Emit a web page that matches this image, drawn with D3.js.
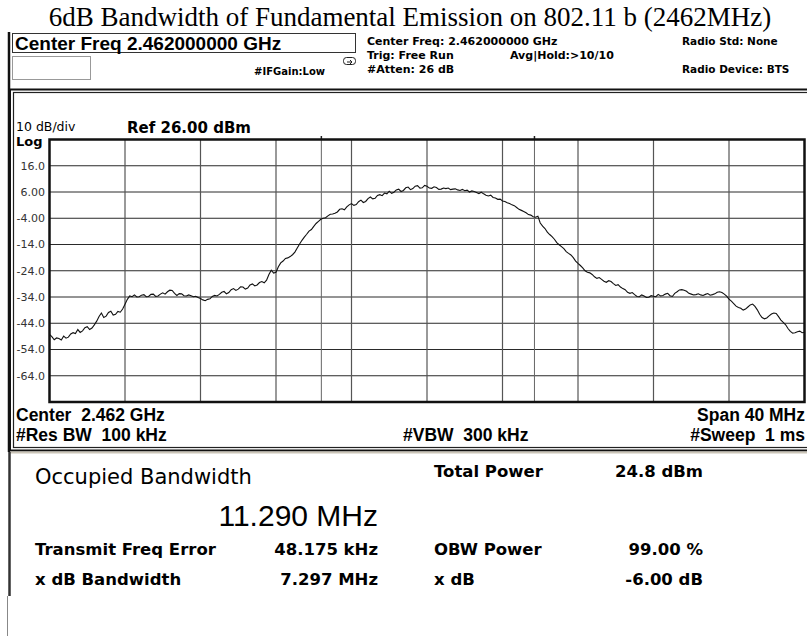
<!DOCTYPE html>
<html>
<head>
<meta charset="utf-8">
<script src="https://cdn.jsdelivr.net/npm/d3@7/dist/d3.min.js"></script>
<style>
  body { margin: 0; background: #fff; }
  svg { display: block; }
  text { white-space: pre; }
</style>
</head>
<body>
<svg id="chart" width="807" height="636"></svg>
<script>
// trace, dBm, one point per 0.125 MHz from -20 MHz to +20 MHz around 2.462 GHz
var sweepStartMHz = -20;
var sweepStepMHz = 0.125;
var traceDbm = [
  -48.2, -49.1, -50.3, -49.6, -49.8, -50.4, -48.9, -49.7, -49.3, -48.1, -47.6, -47.9, -46.4, -47.5, -46.9, -45.7,
  -45.3, -46.4, -45.8, -44.6, -43.2, -41.4, -40.1, -41.8, -41.3, -39.9, -39.4, -40.9, -40.6, -39.5, -39.8, -38.6,
  -36.8, -34.9, -33.6, -33.9, -33.2, -34.0, -33.9, -33.3, -33.1, -33.9, -33.8, -33.0, -32.9, -33.8, -33.6, -32.9,
  -32.4, -32.9, -32.0, -31.4, -31.5, -32.6, -33.4, -32.7, -32.8, -33.5, -33.6, -33.2, -33.5, -33.9, -33.7, -34.2,
  -34.6, -35.1, -35.4, -34.9, -34.7, -33.8, -33.4, -33.6, -33.0, -32.2, -31.9, -32.8, -32.3, -31.2, -30.8, -31.5,
  -31.0, -30.1, -30.2, -31.0, -30.6, -29.4, -29.0, -29.8, -29.4, -28.5, -28.1, -28.6, -27.6, -25.4, -23.8, -24.9,
  -24.6, -22.5, -21.0, -20.3, -19.3, -19.1, -18.6, -17.9, -16.9, -15.3, -13.8, -12.4, -11.2, -10.1, -8.9, -8.3,
  -7.1, -6.0, -5.2, -4.4, -4.0, -3.8, -3.1, -2.5, -2.4, -2.1, -1.6, -0.6, -0.4, -0.8, 0.3, 1.1,
  1.6, 0.9, 1.2, 2.3, 2.9, 2.0, 2.4, 3.5, 4.1, 3.4, 3.6, 4.7, 5.0, 4.6, 5.6, 5.3,
  6.3, 5.5, 5.9, 6.8, 7.1, 6.2, 6.6, 7.6, 7.9, 6.9, 7.3, 8.2, 8.4, 7.5, 7.6, 8.5,
  8.2, 7.5, 7.4, 8.0, 7.7, 7.0, 7.1, 7.5, 7.3, 7.5, 6.9, 7.1, 7.2, 6.8, 6.6, 7.0,
  6.5, 6.7, 6.0, 6.4, 6.2, 5.8, 5.4, 5.9, 5.3, 4.8, 4.5, 4.8, 3.9, 3.7, 3.2, 3.3,
  2.6, 2.4, 1.9, 1.6, 1.1, 0.8, 0.1, -0.6, -1.0, -1.4, -1.9, -2.6, -2.8, -3.4, -3.6, -3.2,
  -5.8, -7.0, -7.9, -9.3, -10.2, -11.0, -12.0, -13.3, -14.1, -14.8, -15.6, -16.7, -17.4, -18.0, -19.0, -20.3,
  -21.2, -22.0, -22.9, -24.0, -24.6, -24.8, -25.4, -26.3, -26.9, -26.6, -27.3, -28.0, -28.4, -27.8, -28.1, -28.9,
  -29.6, -29.3, -30.2, -30.8, -31.2, -32.2, -32.6, -32.3, -33.1, -33.8, -33.9, -33.2, -33.6, -34.2, -34.1, -33.5,
  -33.7, -33.9, -33.0, -33.6, -33.4, -32.9, -32.6, -33.5, -33.8, -32.6, -32.0, -31.3, -31.2, -31.4, -31.8, -32.6,
  -32.9, -33.2, -33.1, -32.8, -33.2, -33.4, -33.0, -32.7, -33.3, -33.1, -32.8, -32.2, -32.0, -32.3, -32.9, -33.7,
  -34.8, -35.6, -36.5, -37.5, -38.0, -38.3, -39.0, -38.6, -37.8, -37.0, -36.7, -37.6, -38.9, -40.6, -41.8, -42.3,
  -42.0, -41.2, -40.5, -40.1, -40.3, -41.5, -42.8, -43.7, -44.6, -46.0, -47.1, -47.8, -47.6, -47.2, -47.0, -47.6,
  -47.4
];

// y axis
var refLevel = 26;
var bottomLevel = -74;
var yTickValues = [16, 6, -4, -14, -24, -34, -44, -54, -64];
var yTickLabels = ["16.0", "6.00", "-4.00", "-14.0", "-24.0", "-34.0", "-44.0", "-54.0", "-64.0"];
// x grid, MHz offset
var xGridValues = [-16, -12, -8, -4, 0, 4, 8, 12, 16];
// OBW markers (11.290 MHz wide, offset 48.175 kHz)
var obwMarkersMHz = [-5.597, 5.693];

// text
var title = "6dB Bandwidth of Fundamental Emission on 802.11 b (2462MHz)";
var headerLeft = ["Center Freq: 2.462000000 GHz", "Trig: Free Run", "#Atten: 26 dB"];
var headerRight = ["Radio Std: None", "", "Radio Device: BTS"];
var resultLabels = ["Transmit Freq Error", "x dB Bandwidth"];
var resultValues = ["48.175 kHz", "7.297 MHz"];
var resultLabels2 = ["Total Power", "OBW Power", "x dB"];
var resultValues2 = ["24.8 dBm", "99.00 %", "-6.00 dB"];

var svg = d3.select("#chart");
var sans = "'Liberation Sans', Arial, sans-serif";
var deja = "'DejaVu Sans', sans-serif";

svg.append("rect").attr("width", 807).attr("height", 636).attr("fill", "#fff");

//标题
svg.append("text")
  .attr("x", 410).attr("y", 26)
  .attr("text-anchor", "middle")
  .style("font-family", "'Liberation Serif', 'Times New Roman', serif")
  .style("font-size", "27px")
  .text(title);

//上面的信息
svg.append("rect").attr("x", 12.5).attr("y", 33.5).attr("width", 343).attr("height", 19)
  .attr("fill", "#fff").attr("stroke", "#333");
svg.append("text").attr("x", 15).attr("y", 50)
  .style("font-family", sans).style("font-size", "19px").style("font-weight", "bold")
  .text("Center Freq 2.462000000 GHz");
svg.append("rect").attr("x", 12.5).attr("y", 56.5).attr("width", 78).attr("height", 23)
  .attr("fill", "#fff").attr("stroke", "#999");
svg.append("rect").attr("x", 343.5).attr("y", 57.5).attr("width", 12).attr("height", 7).attr("rx", 3)
  .attr("fill", "#fff").attr("stroke", "#222");
svg.append("path").attr("d", "M347,62 L351,62 M350,60 L352,62 L350,64").attr("stroke", "#222").attr("fill", "none");
svg.append("text").attr("x", 325).attr("y", 75).attr("text-anchor", "end")
  .style("font-family", deja).style("font-size", "10px").style("font-weight", "bold")
  .text("#IFGain:Low");

svg.selectAll("text.hl").data(headerLeft).enter().append("text")
  .attr("class", "hl")
  .attr("x", 367).attr("y", function(d, i){ return 45 + i * 14; })
  .style("font-family", deja).style("font-size", "11px").style("font-weight", "bold")
  .text(function(d){ return d; });
svg.selectAll("text.hr").data(headerRight).enter().append("text")
  .attr("class", "hr")
  .attr("x", 682).attr("y", function(d, i){ return 45 + i * 14; })
  .style("font-family", deja).style("font-size", "10.5px").style("font-weight", "bold")
  .text(function(d){ return d; });
svg.append("text").attr("x", 510).attr("y", 59)
  .style("font-family", deja).style("font-size", "11px").style("font-weight", "bold")
  .text("Avg|Hold:>10/10");

//外框
svg.append("line").attr("x1", 9).attr("x2", 9).attr("y1", 32).attr("y2", 452)
  .attr("stroke", "#111").attr("stroke-width", 2.5);
svg.append("rect").attr("x", 10).attr("y", 89.5).attr("width", 800).attr("height", 361)
  .attr("fill", "none").attr("stroke", "#111").attr("stroke-width", 2);
svg.append("rect").attr("x", 13.5).attr("y", 92.5).attr("width", 800).attr("height", 355)
  .attr("fill", "none").attr("stroke", "#222").attr("stroke-width", 1.2);
svg.append("line").attr("x1", 10).attr("x2", 807).attr("y1", 452.5).attr("y2", 452.5)
  .attr("stroke", "#cbc5b8").attr("stroke-width", 2);
svg.append("line").attr("x1", 9.5).attr("x2", 9.5).attr("y1", 452).attr("y2", 596)
  .attr("stroke", "#333").attr("stroke-width", 2.5);
svg.append("line").attr("x1", 7.5).attr("x2", 7.5).attr("y1", 596).attr("y2", 636)
  .attr("stroke", "#888").attr("stroke-width", 1);

//坐标
var plot = {left: 49.5, right: 804.5, top: 139.5, bottom: 402};
var x = d3.scaleLinear().domain([-20, 20]).range([plot.left, plot.right]);
var y = d3.scaleLinear().domain([bottomLevel, refLevel]).range([plot.bottom, plot.top]);

svg.append("text").attr("x", 16).attr("y", 131)
  .style("font-family", deja).style("font-size", "12.5px")
  .text("10 dB/div");
svg.append("text").attr("x", 127).attr("y", 133)
  .style("font-family", deja).style("font-size", "15px").style("font-weight", "bold")
  .text("Ref 26.00 dBm");
svg.append("text").attr("x", 16).attr("y", 146)
  .style("font-family", deja).style("font-size", "13px").style("font-weight", "bold")
  .text("Log");

svg.selectAll("line.gy").data(yTickValues).enter().append("line")
  .attr("class", "gy")
  .attr("x1", plot.left).attr("x2", plot.right)
  .attr("y1", function(d){ return y(d); }).attr("y2", function(d){ return y(d); })
  .attr("stroke", "#2a2a2a").attr("stroke-width", 1);
svg.selectAll("line.gx").data(xGridValues).enter().append("line")
  .attr("class", "gx")
  .attr("x1", function(d){ return x(d); }).attr("x2", function(d){ return x(d); })
  .attr("y1", plot.top).attr("y2", plot.bottom)
  .attr("stroke", "#555").attr("stroke-width", 1.2);
svg.selectAll("line.mk").data(obwMarkersMHz).enter().append("line")
  .attr("class", "mk")
  .attr("x1", function(d){ return x(d); }).attr("x2", function(d){ return x(d); })
  .attr("y1", plot.top).attr("y2", plot.bottom)
  .attr("stroke", "#666").attr("stroke-width", 1);
svg.selectAll("line.mt").data(obwMarkersMHz).enter().append("line")
  .attr("class", "mt")
  .attr("x1", function(d){ return x(d); }).attr("x2", function(d){ return x(d); })
  .attr("y1", plot.top - 3.5).attr("y2", plot.top)
  .attr("stroke", "#222").attr("stroke-width", 1.5);

svg.selectAll("text.yl").data(yTickValues).enter().append("text")
  .attr("class", "yl")
  .attr("x", 45).attr("y", function(d){ return y(d); })
  .attr("dy", "0.36em")
  .attr("text-anchor", "end")
  .attr("fill", "#333")
  .style("font-family", deja).style("font-size", "11px")
  .text(function(d, i){ return yTickLabels[i]; });

svg.append("defs").append("clipPath").attr("id", "clip")
  .append("rect").attr("x", plot.left).attr("y", plot.top)
  .attr("width", plot.right - plot.left).attr("height", plot.bottom - plot.top);

var line = d3.line()
  .x(function(d, i){ return x(sweepStartMHz + i * sweepStepMHz); })
  .y(function(d){ return y(d); });
svg.append("path").datum(traceDbm)
  .attr("d", line)
  .attr("clip-path", "url(#clip)")
  .attr("fill", "none").attr("stroke", "#111").attr("stroke-width", 1.1);

svg.append("rect").attr("x", plot.left).attr("y", plot.top)
  .attr("width", plot.right - plot.left).attr("height", plot.bottom - plot.top)
  .attr("fill", "none").attr("stroke", "#111").attr("stroke-width", 2.5);

//下面的标注
var ann = [
  {t: "Center  2.462 GHz", x: 16, y: 421, a: "start"},
  {t: "#Res BW  100 kHz", x: 16, y: 441, a: "start"},
  {t: "#VBW  300 kHz", x: 403, y: 441, a: "start"},
  {t: "Span 40 MHz", x: 805, y: 421, a: "end"},
  {t: "#Sweep  1 ms", x: 805, y: 441, a: "end"}
];
svg.selectAll("text.ann").data(ann).enter().append("text")
  .attr("class", "ann")
  .attr("x", function(d){ return d.x; }).attr("y", function(d){ return d.y; })
  .attr("text-anchor", function(d){ return d.a; })
  .style("font-family", sans).style("font-size", "17.5px").style("font-weight", "bold")
  .text(function(d){ return d.t; });

//结果
svg.append("text").attr("x", 35).attr("y", 484)
  .style("font-family", deja).style("font-size", "21px")
  .text("Occupied Bandwidth");
svg.append("text").attr("x", 378).attr("y", 526).attr("text-anchor", "end")
  .style("font-family", sans).style("font-size", "30px")
  .text("11.290 MHz");

svg.selectAll("text.rl").data(resultLabels).enter().append("text")
  .attr("class", "rl")
  .attr("x", 35).attr("y", function(d, i){ return 555 + i * 30; })
  .style("font-family", deja).style("font-size", "16.5px").style("font-weight", "bold")
  .text(function(d){ return d; });
svg.selectAll("text.rv").data(resultValues).enter().append("text")
  .attr("class", "rv")
  .attr("x", 378).attr("y", function(d, i){ return 555 + i * 30; })
  .attr("text-anchor", "end")
  .style("font-family", deja).style("font-size", "16.5px").style("font-weight", "bold")
  .text(function(d){ return d; });

var rowY2 = [477, 555, 585];
svg.selectAll("text.rl2").data(resultLabels2).enter().append("text")
  .attr("class", "rl2")
  .attr("x", 434).attr("y", function(d, i){ return rowY2[i]; })
  .style("font-family", deja).style("font-size", "16.5px").style("font-weight", "bold")
  .text(function(d){ return d; });
svg.selectAll("text.rv2").data(resultValues2).enter().append("text")
  .attr("class", "rv2")
  .attr("x", 703).attr("y", function(d, i){ return rowY2[i]; })
  .attr("text-anchor", "end")
  .style("font-family", deja).style("font-size", "16.5px").style("font-weight", "bold")
  .text(function(d){ return d; });
</script>
</body>
</html>
